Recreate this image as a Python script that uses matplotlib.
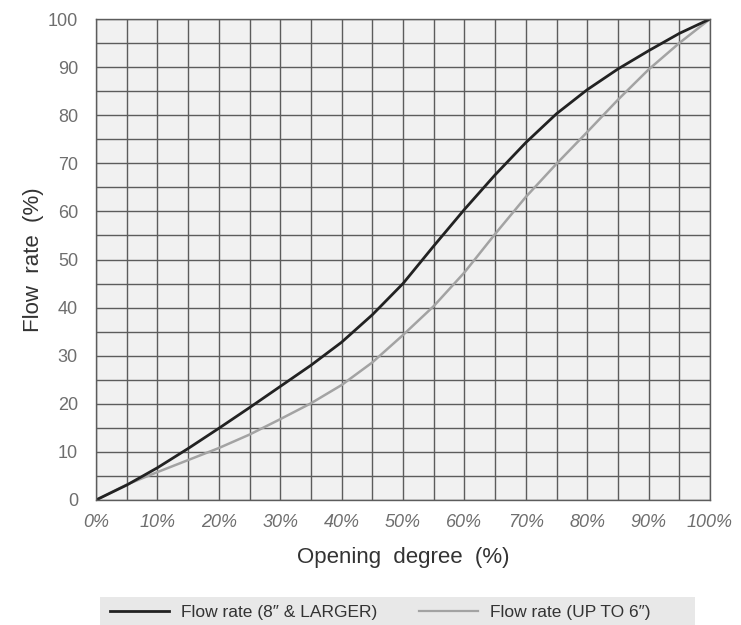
import matplotlib
matplotlib.use("Agg")
import matplotlib.pyplot as plt
from matplotlib import font_manager
from matplotlib.patches import Rectangle
from matplotlib.lines import Line2D

# ---- data ----
opening = [0, 5, 10, 15, 20, 25, 30, 35, 40, 45, 50, 55, 60, 65, 70, 75, 80, 85, 90, 95, 100]
flow_large = [0, 3.1, 6.7, 10.7, 14.9, 19.2, 23.6, 28.0, 32.8, 38.5, 45.0, 52.8, 60.4, 67.6,
              74.3, 80.3, 85.3, 89.6, 93.4, 97.0, 100]
flow_small = [0, 3.2, 5.8, 8.3, 10.8, 13.6, 16.8, 20.1, 23.9, 28.6, 34.3, 40.3, 47.3, 55.3,
              63.0, 69.9, 76.5, 83.2, 89.5, 95.0, 100]
x_ticks = [0, 10, 20, 30, 40, 50, 60, 70, 80, 90, 100]
x_tick_labels = ["0%", "10%", "20%", "30%", "40%", "50%", "60%", "70%", "80%", "90%", "100%"]
y_ticks = [0, 10, 20, 30, 40, 50, 60, 70, 80, 90, 100]
series_names = ["Flow rate (8\u2033 & LARGER)", "Flow rate (UP TO 6\u2033)"]

names = {f.name for f in font_manager.fontManager.ttflist}
main = "Liberation Sans Narrow" if "Liberation Sans Narrow" in names else "Liberation Sans"
plt.rcParams["font.family"] = [main, "DejaVu Sans"]

W, H = 741, 625
fig = plt.figure(figsize=(W / 100, H / 100), dpi=100)
fig.patch.set_facecolor("white")
L, R, T, B = 96, 710, 19, 500
ax = fig.add_axes([L / W, 1 - B / H, (R - L) / W, (B - T) / H])
ax.set_facecolor("#f1f1f1")

grid_c = "#5c5c5c"
ax.set_xlim(0, 100)
ax.set_ylim(0, 100)
ax.set_xticks(range(0, 101, 5), minor=True)
ax.set_yticks(range(0, 101, 5), minor=True)
ax.grid(which="both", color=grid_c, linewidth=1.0)
ax.set_axisbelow(True)
for s in ax.spines.values():
    s.set_color(grid_c)
    s.set_linewidth(1.0)

ax.plot(opening, flow_small, color="#a3a3a3", lw=1.8, solid_capstyle="round", solid_joinstyle="round")
ax.plot(opening, flow_large, color="#222222", lw=2.0, solid_capstyle="round", solid_joinstyle="round")

ax.set_xticks(x_ticks)
ax.set_xticklabels(x_tick_labels, fontstyle="italic")
ax.set_yticks(y_ticks)
ax.tick_params(which="both", length=0)
ax.tick_params(axis="x", pad=10, labelsize=13, labelcolor="#6e6e6e")
ax.tick_params(axis="y", pad=13, labelsize=13, labelcolor="#6e6e6e")

ax.set_xlabel("Opening  degree  (%)", fontsize=16, color="#333333")
ax.set_ylabel("Flow  rate  (%)", fontsize=16, color="#333333")
ax.xaxis.set_label_coords(0.5, (B - 558) / (B - T))
ax.xaxis.label.set_va("center")
ax.yaxis.set_label_coords((33 - L) / (R - L), 0.5)
ax.yaxis.label.set_va("center")

# legend band
fig.patches.append(Rectangle((100 / W, 0), 595 / W, 28 / H, transform=fig.transFigure,
                             facecolor="#e8e8e8", edgecolor="none", zorder=0))
handles = [Line2D([], [], color="#222222", lw=2.0), Line2D([], [], color="#a3a3a3", lw=1.6)]
leg = fig.legend(handles, series_names, loc="center left",
                 bbox_to_anchor=(110 / W, 1 - 612 / H), ncol=2, frameon=False,
                 fontsize=12.5, handlelength=3.4, handletextpad=0.7, columnspacing=2.4,
                 borderpad=0, borderaxespad=0)
for t in leg.get_texts():
    t.set_color("#333333")

fig.savefig("out.png", dpi=100)
